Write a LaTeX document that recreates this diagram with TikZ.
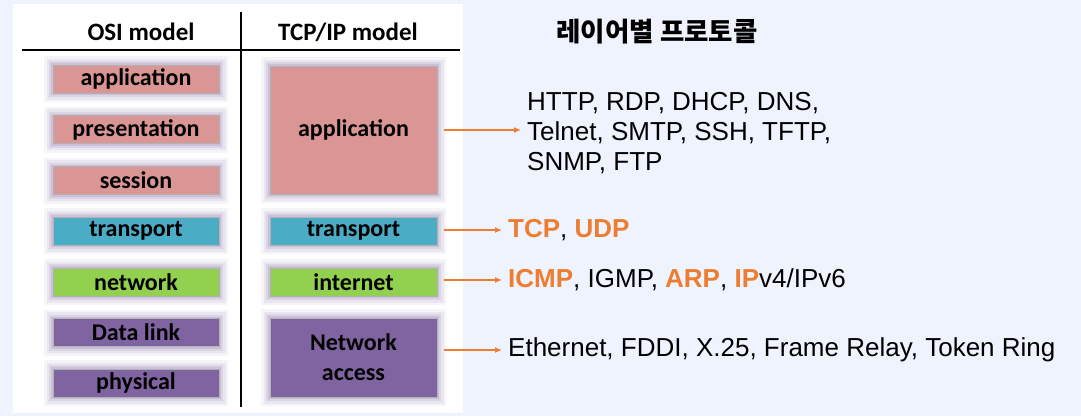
\documentclass[tikz,border=0pt]{standalone}
\usepackage{fontspec}
\usetikzlibrary{arrows.meta}
\setmainfont{Liberation Sans}
\newfontfamily\calfont{Carlito}
\newfontfamily\krfont{Noto Sans CJK KR}
\definecolor{bgc}{RGB}{239,243,254}
\definecolor{appc}{RGB}{217,150,148}
\definecolor{trnc}{RGB}{75,172,198}
\definecolor{netc}{RGB}{146,208,80}
\definecolor{linkc}{RGB}{128,100,162}
\definecolor{glowc}{RGB}{140,120,175}
\definecolor{orng}{RGB}{237,125,49}
\begin{document}
\begin{tikzpicture}[
      x=1pt, y=-1pt,
      layer/.style={draw=black!30, line width=0.6pt, inner sep=0pt,
        minimum height=28pt, align=center,
        font=\calfont\bfseries\fontsize{24}{30}\selectfont,
        preaction={draw=glowc, line width=18pt, rounded corners=9pt, opacity=0.08},
        preaction={draw=glowc, line width=13pt, rounded corners=7pt, opacity=0.11},
        preaction={draw=glowc, line width=8pt, rounded corners=4pt, opacity=0.16},
        preaction={draw=glowc, line width=4pt, rounded corners=2pt, opacity=0.2}},
      osi/.style={layer, minimum width=166pt},
      tcp/.style={layer, minimum width=167pt},
      head/.style={font=\calfont\bfseries\fontsize{25}{28}\selectfont},
      proto/.style={anchor=west, inner sep=6pt, align=left,
        font=\fontsize{26}{30}\selectfont},
      link/.style={orng, line width=1.6pt, -{Latex[length=7pt,width=6pt]}, shorten <=7pt}
    ]
    \useasboundingbox (0,0) rectangle (1081,416);
    \fill[bgc] (0,0) rectangle (1081,416);
    \fill[white] (13,4) rectangle (463,413);
    \node (osihead) [head] at (141,32) {OSI model};
    \node (tcphead) [head] at (348,32) {TCP/IP model};
    \coordinate (hl) at (22,50);
    \coordinate (hr) at (460,50);
    \coordinate (vt) at (241,12);
    \coordinate (vb) at (241,407);
    \draw[line width=1.2pt] (hl) -- (hr);
    \draw[line width=1.2pt] (vt) -- (vb);
    \node (osiapp) [osi, fill=appc] at (136,79) {application};
    \node (osipres) [osi, fill=appc] at (136,129.5) {presentation};
    \node (osisess) [osi, fill=appc] at (136,180.5) {session};
    \node (ositrn) [osi, fill=trnc] at (136,231) {transport};
    \node (osinet) [osi, fill=netc] at (136,282) {network};
    \node (osidl) [osi, fill=linkc] at (136,332.5) {Data link};
    \node (osiphy) [osi, fill=linkc] at (136,383) {physical};
    \node (tcpapp) [tcp, fill=appc, minimum height=128pt] at (353.5,130) {application};
    \node (tcptrn) [tcp, fill=trnc] at (353.5,231) {transport};
    \node (tcpnet) [tcp, fill=netc] at (353.5,282) {internet};
    \node (tcpacc) [tcp, fill=linkc, minimum height=79pt] at (353.5,357.5) {Network\\access};
    \node (title) [font=\krfont\bfseries\fontsize{26.5}{30}\selectfont] at (657,32) {레이어별 프로토콜};
    \node (appp) [proto] at (521,133) {HTTP, RDP, DHCP, DNS,\\Telnet, SMTP, SSH, TFTP,\\SNMP, FTP};
    \node (trnp) [proto] at (502,230) {\textcolor{orng}{\bfseries TCP}, \textcolor{orng}{\bfseries UDP}};
    \node (netp) [proto] at (502,280) {\textcolor{orng}{\bfseries ICMP}, IGMP, \textcolor{orng}{\bfseries ARP}, \textcolor{orng}{\bfseries IP}v4/IPv6};
    \node (accp) [proto] at (502,350) {Ethernet, FDDI, X.25, Frame Relay, Token Ring};
    \coordinate (appy) at (0,130);
    \draw[link] (tcpapp.east |- appy) -- (appp.west |- appy);
    \draw[link] (tcptrn.east |- trnp.west) -- (trnp.west);
    \draw[link] (tcpnet.east |- netp.west) -- (netp.west);
    \draw[link] (tcpacc.east |- accp.west) -- (accp.west);
  \end{tikzpicture}
\end{document}
